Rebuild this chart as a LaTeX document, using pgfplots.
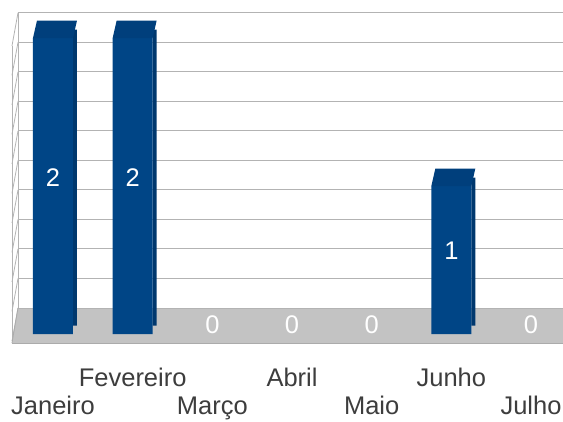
\documentclass[border=0pt]{standalone}
\usepackage{pgfplots}
\pgfplotsset{compat=1.18}
\usepackage{pgfplotstable}
\usepackage{fontspec}
\setmainfont{Liberation Sans}
\definecolor{barfront}{HTML}{004586}
\definecolor{barcap}{HTML}{003F7C}
\definecolor{barside}{HTML}{00386E}
\definecolor{gridc}{HTML}{B3B3B3}
\definecolor{floorc}{HTML}{C3C3C3}
\definecolor{flooredge}{HTML}{ABABAB}
\definecolor{txt}{HTML}{3D3D3D}
\pgfdeclareplotmark{cap}{%
  \pgfpathmoveto{\pgfpoint{-20pt}{0pt}}%
  \pgfpathlineto{\pgfpoint{20pt}{0pt}}%
  \pgfpathlineto{\pgfpoint{24pt}{17.5pt}}%
  \pgfpathlineto{\pgfpoint{-16pt}{17.5pt}}%
  \pgfpathclose
  \pgfusepathqfill}
\pgfplotstableread{
x v
0 2
1 2
2 0
3 0
4 0
5 1
6 0
}\data
\pgfplotstableread{
x v
0 2
1 2
5 1
}\caps
\newcommand{\lblfont}{\fontsize{25.5}{30}\selectfont}
\begin{document}
\begin{tikzpicture}
\useasboundingbox (-12pt,-87pt) rectangle (551pt,334pt);
% back wall grid
\foreach \k in {0,...,10}{
  \pgfmathsetmacro\yy{26+29.52*\k}
  \pgfmathsetmacro\yf{26+29.52*\k-33}
  \draw[gridc, line width=1pt] (6pt,\yy pt) -- (551pt,\yy pt);
  \draw[gridc, line width=0.8pt] (6pt,\yy pt) -- (0pt,\yf pt);
}
\draw[gridc, line width=0.8pt] (6pt,26pt) -- (6pt,321.2pt);
\draw[gridc, line width=0.8pt] (0pt,-9pt) -- (0pt,288pt);
% floor
\fill[floorc] (0pt,-9pt) -- (551pt,-9pt) -- (551pt,26pt) -- (6pt,26pt) -- cycle;
\draw[gridc, line width=1pt] (6pt,26pt) -- (551pt,26pt);
\draw[flooredge, line width=1pt] (0pt,-9pt) -- (551pt,-9pt);
\draw[flooredge, line width=0.8pt] (0pt,-9pt) -- (6pt,26pt);
\begin{axis}[
  at={(0pt,0pt)}, anchor=south west,
  scale only axis, width=551pt, height=296pt,
  xmin=-0.5146, xmax=6.4014, ymin=0, ymax=2,
  clip=false,
  axis line style={draw=none},
  ytick=\empty,
  xtick={1,3,5}, xticklabels={Fevereiro,Abril,Junho},
  extra x ticks={0,2,4,6},
  extra x tick labels={Janeiro,Março,Maio,Julho},
  major tick length=0pt,
  xticklabel style={anchor=base, yshift=-52pt, font=\lblfont, text=txt},
  extra x tick style={xticklabel style={yshift=-28pt}, grid=none},
]
\addplot[ybar, bar width=4pt, bar shift=22pt, fill=barside, draw=none, yshift=8.5pt]
  table[x=x, y=v] {\caps};
\addplot[ybar, bar width=40pt, bar shift=0pt, fill=barfront, draw=none]
  table[x=x, y=v] {\caps};
\addplot[only marks, mark=cap, mark options={fill=barcap, draw=none}, color=barcap]
  table[x=x, y=v] {\caps};
\addplot[draw=none, mark=none, point meta=explicit symbolic,
  nodes near coords,
  every node near coord/.style={anchor=center, text=white, font=\lblfont}]
  table[x=x, y expr=\thisrow{v}/2+0.06, meta=v] {\data};
\end{axis}
\end{tikzpicture}
\end{document}
